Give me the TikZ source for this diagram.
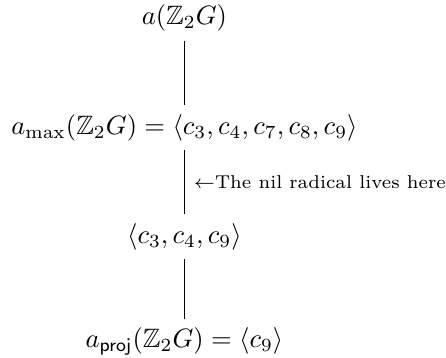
\documentclass[tikz,border=0pt]{standalone}
\usepackage{amsmath,amssymb}
\usepackage{tikz}

\begin{document}
\begin{tikzpicture}[>=stealth]
  \useasboundingbox (-2.44,0.24) rectangle (3.46,-4.49);
  \node (top) at (0,0) {$a(\mathbb{Z}_2G)$};
  \node (amax) at (0,-1.45) {$a_{\max}(\mathbb{Z}_2G) = \langle c_3, c_4, c_7, c_8, c_9 \rangle$};
  \node (mid) at (0,-2.89) {$\langle c_3, c_4, c_9 \rangle$};
  \node (aproj) at (0,-4.28) {$a_{\mathsf{proj}}(\mathbb{Z}_2G) = \langle c_9 \rangle$};
  \draw (top) -- (amax);
  \draw (amax) -- (mid)
    node[midway, right, font=\scriptsize] {$\leftarrow$The nil radical lives here};
  \draw (mid) -- (aproj);
\end{tikzpicture}
\end{document}
